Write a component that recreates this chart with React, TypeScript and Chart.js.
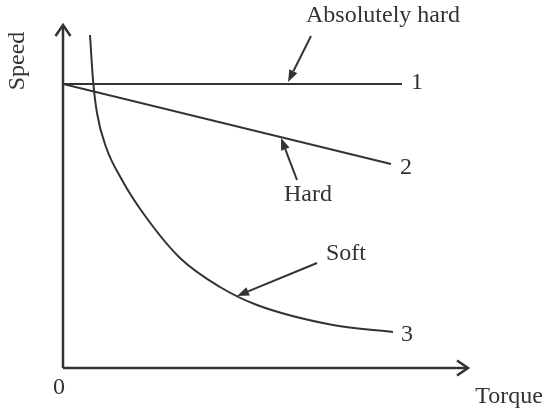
import React, { useEffect, useRef } from "react";
import { Chart, registerables } from "chart.js";

Chart.register(...registerables);

// Characteristic lines (torque, speed) in arbitrary units
const line1Torque = [0, 339];
const line1Speed = [284, 284];
const line2Torque = [0, 328];
const line2Speed = [284, 204];
const curveTorque = [27, 30, 34, 43, 59, 80, 117, 157, 194, 270, 330];
const curveSpeed = [333, 288, 255, 221, 188, 155, 110, 81, 63, 43, 36];

const axisMaxTorque = 405;
const axisMaxSpeed = 343;

// Labels: text, torque, speed
const labelTexts = ["Absolutely hard", "1", "2", "Hard", "Soft", "3", "0", "Torque"];
const labelTorque = [320, 354, 343, 245, 283, 344, -4, 446];
const labelSpeed = [352, 285, 200, 173, 114, 33, -20, -29];

// Pointer arrows: from (torque, speed) to (torque, speed)
const arrowFromTorque = [248, 234, 254];
const arrowFromSpeed = [332, 188, 105];
const arrowToTorque = [225, 218, 174];
const arrowToSpeed = [286, 230, 72];

const INK = "#333333";
const FONT = "24px 'Liberation Serif', 'Times New Roman', serif";

const zip = (xs: number[], ys: number[]) => xs.map((x, i) => ({ x, y: ys[i] }));

const decorPlugin = {
  id: "decor",
  afterDraw(chart: any) {
    const { ctx, scales } = chart;
    const xs = scales.x;
    const ys = scales.y;
    const px = (v: number) => xs.getPixelForValue(v);
    const py = (v: number) => ys.getPixelForValue(v);
    ctx.save();
    ctx.strokeStyle = INK;
    ctx.fillStyle = INK;
    ctx.lineCap = "butt";
    // axes
    const ox = px(0);
    const oy = py(0);
    const topY = py(axisMaxSpeed);
    const rightX = px(axisMaxTorque);
    ctx.lineWidth = 2.5;
    ctx.beginPath();
    ctx.moveTo(ox, oy);
    ctx.lineTo(ox, topY);
    ctx.moveTo(ox, oy);
    ctx.lineTo(rightX, oy);
    ctx.stroke();
    ctx.lineJoin = "miter";
    ctx.beginPath();
    ctx.moveTo(ox - 7.5, topY + 11);
    ctx.lineTo(ox, topY);
    ctx.lineTo(ox + 7.5, topY + 11);
    ctx.moveTo(rightX - 11, oy - 7.5);
    ctx.lineTo(rightX, oy);
    ctx.lineTo(rightX - 11, oy + 7.5);
    ctx.stroke();

    // pointer arrows
    ctx.lineWidth = 2;
    for (let i = 0; i < arrowFromTorque.length; i++) {
      const x1 = px(arrowFromTorque[i]);
      const y1 = py(arrowFromSpeed[i]);
      const x2 = px(arrowToTorque[i]);
      const y2 = py(arrowToSpeed[i]);
      const a = Math.atan2(y2 - y1, x2 - x1);
      const L = 12;
      const W = 4.5;
      const bx = x2 - L * Math.cos(a);
      const by = y2 - L * Math.sin(a);
      ctx.beginPath();
      ctx.moveTo(x1, y1);
      ctx.lineTo(bx, by);
      ctx.stroke();
      ctx.beginPath();
      ctx.moveTo(x2, y2);
      ctx.lineTo(bx + W * Math.sin(a), by - W * Math.cos(a));
      ctx.lineTo(bx - W * Math.sin(a), by + W * Math.cos(a));
      ctx.closePath();
      ctx.fill();
    }

    // labels
    ctx.font = FONT;
    ctx.textAlign = "center";
    ctx.textBaseline = "middle";
    for (let i = 0; i < labelTexts.length; i++) {
      ctx.fillText(labelTexts[i], px(labelTorque[i]), py(labelSpeed[i]));
    }
    // rotated y label
    ctx.translate(px(-45), py(307));
    ctx.rotate(-Math.PI / 2);
    ctx.fillText("Speed", 0, 0);
    ctx.restore();
  },
};

export default function App() {
  const ref = useRef<HTMLCanvasElement | null>(null);
  useEffect(() => {
    if (!ref.current) return;
    const lineStyle = {
      borderColor: INK,
      borderWidth: 2,
      pointRadius: 0,
      fill: false,
    };
    const chart = new Chart(ref.current, {
      type: "line",
      data: {
        datasets: [
          { ...lineStyle, label: "1", data: zip(line1Torque, line1Speed) },
          { ...lineStyle, label: "2", data: zip(line2Torque, line2Speed) },
          {
            ...lineStyle,
            label: "3",
            data: zip(curveTorque, curveSpeed),
            cubicInterpolationMode: "monotone",
          },
        ],
      },
      options: {
        animation: false,
        responsive: false,
        maintainAspectRatio: false,
        layout: { padding: { left: 63, right: 75, top: 25, bottom: 43 } },
        plugins: { legend: { display: false }, tooltip: { enabled: false } },
        scales: {
          x: { type: "linear", min: 0, max: axisMaxTorque, display: false },
          y: { type: "linear", min: 0, max: axisMaxSpeed, display: false },
        },
      },
      plugins: [decorPlugin],
    });
    return () => chart.destroy();
  }, []);
  return (
    <div style={{ position: "fixed", left: 0, top: 0, width: 543, height: 411, background: "#fff" }}>
      <canvas ref={ref} width={543} height={411} style={{ width: 543, height: 411 }} />
    </div>
  );
}
